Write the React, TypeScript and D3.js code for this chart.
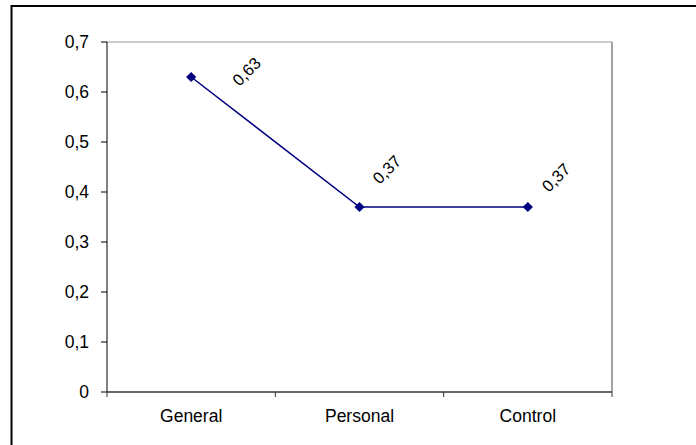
import * as d3 from 'd3'

const categories = ['General', 'Personal', 'Control']
const values = [0.63, 0.37, 0.37]
const yTicks = [0, 0.1, 0.2, 0.3, 0.4, 0.5, 0.6, 0.7]
// label offsets from each point (px), as Excel placed them
const labelOffsets: [number, number][] = [
  [48, 10],
  [20, -22],
  [21, -14],
]

const W = 696
const H = 445
const margin = { top: 42, right: 84, bottom: 53, left: 107 }
const font = 'Arial, "Liberation Sans", sans-serif'

const locale = d3.formatLocale({ decimal: ',', thousands: '.', grouping: [3], currency: ['', ''] })
const fmtTick = (v: number) => (v === 0 ? '0' : locale.format('.1f')(v))
const fmtLabel = locale.format('.2f')

export default function App() {
  const x = d3
    .scaleBand()
    .domain(categories)
    .range([margin.left, W - margin.right])
    .padding(0)
  const y = d3
    .scaleLinear()
    .domain([0, 0.7])
    .range([H - margin.bottom, margin.top])

  const cx = (c: string) => (x(c) ?? 0) + x.bandwidth() / 2
  const pts = categories.map((c, i) => ({ c, v: values[i], i }))

  const line = d3
    .line<{ c: string; v: number }>()
    .x((d) => cx(d.c))
    .y((d) => y(d.v))

  const marker = d3.symbol(d3.symbolSquare, 52)()

  const x0 = margin.left
  const x1 = W - margin.right
  const y0 = H - margin.bottom
  const y1 = margin.top
  const edges = [...categories.map((c) => x(c) ?? 0), x1]

  return (
    <svg
      width={W}
      height={H}
      style={{ position: 'absolute', left: 0, top: 0, background: '#fff' }}
      fontFamily={font}
    >
      <rect x={11.5} y={6} width={720} height={460} fill="#fff" stroke="#000" strokeWidth={2} />

      {/* plot frame */}
      <line x1={x0} x2={x1} y1={y1} y2={y1} stroke="#9a9a9a" strokeWidth={1.2} />
      <line x1={x1} x2={x1} y1={y1} y2={y0} stroke="#8c8c8c" strokeWidth={1.6} />

      {/* y axis */}
      <line x1={x0} x2={x0} y1={y1} y2={y0} stroke="#000" strokeWidth={1} />
      {yTicks.map((t) => (
        <g key={t}>
          <line x1={x0 - 6} x2={x0} y1={y(t)} y2={y(t)} stroke="#000" />
          <text x={x0 - 18} y={y(t)} dy="0.36em" textAnchor="end" fontSize={17.5} fill="#000">
            {fmtTick(t)}
          </text>
        </g>
      ))}

      {/* x axis */}
      <line x1={x0} x2={x1} y1={y0} y2={y0} stroke="#333" strokeWidth={1.3} />
      {edges.map((e, i) => (
        <line key={i} x1={e} x2={e} y1={y0} y2={y0 + 5} stroke="#333" />
      ))}
      {categories.map((c) => (
        <text key={c} x={cx(c)} y={y0 + 30} textAnchor="middle" fontSize={17.5} fill="#000">
          {c}
        </text>
      ))}

      {/* series */}
      <path d={line(pts) ?? ''} fill="none" stroke="#000080" strokeWidth={1.5} />
      {pts.map((d) => (
        <path
          key={d.c}
          d={marker ?? ''}
          transform={`translate(${cx(d.c)},${y(d.v)}) rotate(45)`}
          fill="#000080"
        />
      ))}
      {pts.map((d) => {
        const [dx, dy] = labelOffsets[d.i]
        const lx = cx(d.c) + dx
        const ly = y(d.v) + dy
        return (
          <text
            key={d.c}
            x={lx}
            y={ly}
            transform={`rotate(-45 ${lx} ${ly})`}
            fontSize={16.5}
            fill="#000"
          >
            {fmtLabel(d.v)}
          </text>
        )
      })}
    </svg>
  )
}
